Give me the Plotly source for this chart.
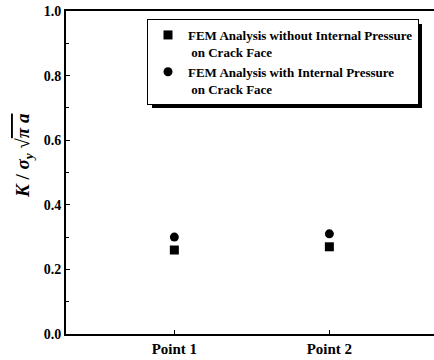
import plotly.graph_objects as go

# Stress intensity factor at the two evaluation points
points = ["Point 1", "Point 2"]
x_pos = [1, 2]
k_without_pressure = [0.26, 0.27]
k_with_pressure = [0.30, 0.31]

series_names = [
    "FEM Analysis without Internal Pressure<br>\u00a0on Crack Face",
    "FEM Analysis with Internal Pressure<br>\u00a0on Crack Face",
]
y_title = ("<b><i>K</i> / <i>\u03c3<sub>y</sub></i> \u221a"
           "<span style='text-decoration:overline'><i>\u03c0 a</i></span></b>")

serif = "Liberation Serif"
# plot area in pixels, used to place paper-referenced items
L, R, T, B = 66, 434, 11, 334
W, H = R - L, B - T


def px(x):
    return (x - L) / W


def py(y):
    return (B - y) / H


fig = go.Figure()
fig.add_trace(go.Scatter(
    x=x_pos, y=k_without_pressure, mode="markers", name=series_names[0],
    legendgroup="a",
    marker=dict(symbol="square", size=9, color="black"),
))
fig.add_trace(go.Scatter(
    x=x_pos, y=k_with_pressure, mode="markers", name=series_names[1],
    legendgroup="b",
    marker=dict(symbol="circle", size=9, color="black"),
))

# drop shadow behind the legend box
fig.add_shape(type="rect", xref="paper", yref="paper",
              x0=px(152), x1=px(422), y0=py(108), y1=py(24),
              fillcolor="black", line=dict(width=0), layer="above")

fig.add_annotation(text=y_title, xref="paper", yref="paper",
                   x=px(24), y=py(156), textangle=-90, showarrow=False,
                   xanchor="center", yanchor="middle",
                   font=dict(family=serif, size=19, color="black"))

fig.update_layout(
    template="none",
    width=434, height=360,
    margin=dict(l=L, r=434 - R, t=T, b=360 - B),
    paper_bgcolor="white", plot_bgcolor="white",
    font=dict(family=serif, color="black"),
    showlegend=True,
    legend=dict(
        x=px(147), y=py(19), xanchor="left", yanchor="top",
        bgcolor="white", bordercolor="black", borderwidth=1,
        font=dict(family=serif, size=13, color="black", weight="bold"),
        valign="top", tracegroupgap=0,
    ),
    xaxis=dict(
        range=[0.301, 2.675], tickvals=x_pos, ticktext=points,
        showline=True, linecolor="black", linewidth=2, mirror=True,
        ticks="inside", ticklen=4, tickcolor="black",
        showgrid=False, zeroline=False,
        tickfont=dict(family=serif, size=15, weight="bold"),
    ),
    yaxis=dict(
        range=[0, 1.0], dtick=0.2, tickformat=".1f",
        showline=True, linecolor="black", linewidth=2, mirror=False,
        ticks="inside", ticklen=4, tickcolor="black",
        minor=dict(dtick=0.1, ticks="inside", ticklen=3, tickcolor="black"),
        showgrid=False, zeroline=False,
        tickfont=dict(family=serif, size=14, weight="bold"),
    ),
)

fig.write_html("out.html")
